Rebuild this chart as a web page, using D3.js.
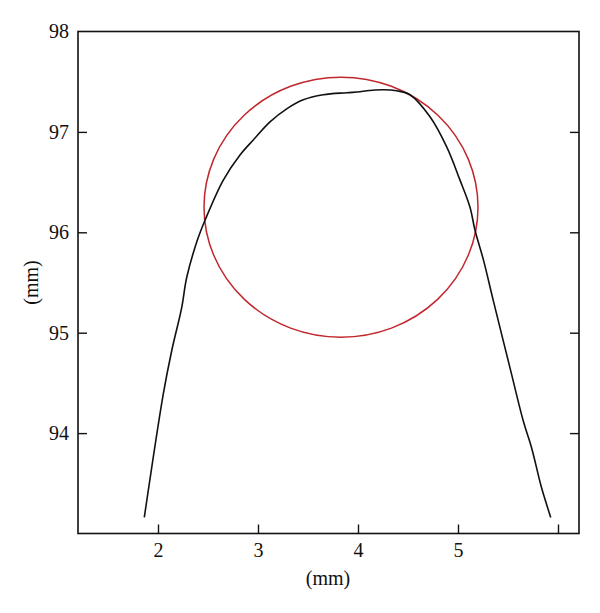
<!DOCTYPE html>
<html>
<head>
<meta charset="utf-8">
<script src="https://cdn.jsdelivr.net/npm/d3@7"></script>
<style>
  body { margin: 0; background: #fff; }
  svg { display: block; }
  text { font-family: "Liberation Serif", "DejaVu Serif", serif; fill: #111; }
</style>
</head>
<body>
<svg id="chart" width="600" height="613"></svg>
<script>
// Profile curve (mm)
const profileX = [1.863, 2.053, 2.137, 2.237, 2.287, 2.393, 2.47, 2.653, 2.82, 2.953, 3.12, 3.287, 3.453, 3.653, 3.887, 4.02, 4.087, 4.253, 4.387, 4.52, 4.72, 4.887, 5.02, 5.12, 5.17, 5.253, 5.353, 5.52, 5.653, 5.737, 5.837, 5.927];
const profileY = [93.16, 94.39, 94.82, 95.25, 95.55, 95.92, 96.12, 96.52, 96.77, 96.92, 97.10, 97.23, 97.32, 97.37, 97.39, 97.40, 97.41, 97.42, 97.41, 97.37, 97.15, 96.85, 96.52, 96.25, 96.02, 95.73, 95.32, 94.65, 94.12, 93.85, 93.45, 93.16];
// Fitted circle: centre and radii (mm)
const circleCenter = [3.83, 96.25];
const circleRadii = [1.37, 1.295];
// Axes
const xDomain = [1.2, 6.21];
const yDomain = [93, 98];
const xTickValues = [2, 3, 4, 5, 6];
const xTickLabels = ["2", "3", "4", "5", ""];
const yTickValues = [94, 95, 96, 97, 98];
const yTickLabels = ["94", "95", "96", "97", "98"];
const xTitle = "(mm)";
const yTitle = "(mm)";

const svg = d3.select("#chart");
const m = { left: 78, right: 21, top: 31.5, bottom: 79.5 };
const W = 600, H = 613;
const x = d3.scaleLinear().domain(xDomain).range([m.left, W - m.right]);
const y = d3.scaleLinear().domain(yDomain).range([H - m.bottom, m.top]);

const tickLen = 9;
const fontSize = 20;
const fontFam = '"Liberation Serif", "DejaVu Serif", serif';

// bottom axis: inward ticks
const xAxis = d3.axisBottom(x).tickValues(xTickValues)
  .tickFormat((d, i) => xTickLabels[i]).tickSizeInner(-tickLen).tickSizeOuter(0).tickPadding(9);
const gx = svg.append("g").attr("transform", `translate(0,${y(yDomain[0])})`).call(xAxis);
gx.select(".domain").remove();
gx.selectAll("line").attr("stroke", "#111").attr("stroke-width", 1.4);
gx.selectAll("text").attr("font-size", fontSize).attr("fill", "#111").attr("font-family", fontFam);

// left axis
const yAxis = d3.axisLeft(y).tickValues(yTickValues)
  .tickFormat((d, i) => yTickLabels[i]).tickSizeInner(-tickLen).tickSizeOuter(0).tickPadding(9);
const gy = svg.append("g").attr("transform", `translate(${x(xDomain[0])},0)`).call(yAxis);
gy.select(".domain").remove();
gy.selectAll("line").attr("stroke", "#111").attr("stroke-width", 1.4)
  .attr("opacity", d => d === yDomain[1] ? 0 : 1);
gy.selectAll("text").attr("font-size", fontSize).attr("fill", "#111").attr("font-family", fontFam);

// right axis (ticks only)
const yAxisR = d3.axisRight(y).tickValues(yTickValues.filter(v => v !== yDomain[1]))
  .tickFormat("").tickSizeInner(-tickLen).tickSizeOuter(0);
const gyr = svg.append("g").attr("transform", `translate(${x(xDomain[1])},0)`).call(yAxisR);
gyr.select(".domain").remove();
gyr.selectAll("line").attr("stroke", "#111").attr("stroke-width", 1.4);

// frame
svg.append("rect")
  .attr("x", x(xDomain[0])).attr("y", y(yDomain[1]))
  .attr("width", x(xDomain[1]) - x(xDomain[0]))
  .attr("height", y(yDomain[0]) - y(yDomain[1]))
  .attr("fill", "none").attr("stroke", "#111").attr("stroke-width", 1.6);

// fitted circle
svg.append("ellipse")
  .attr("cx", x(circleCenter[0])).attr("cy", y(circleCenter[1]))
  .attr("rx", x(circleCenter[0] + circleRadii[0]) - x(circleCenter[0]))
  .attr("ry", y(circleCenter[1]) - y(circleCenter[1] + circleRadii[1]))
  .attr("fill", "none").attr("stroke", "#c1272d").attr("stroke-width", 1.5);

// profile line
const pts = profileX.map((v, i) => [v, profileY[i]]);
svg.append("path").datum(pts)
  .attr("d", d3.line().x(d => x(d[0])).y(d => y(d[1])).curve(d3.curveCatmullRom.alpha(0.5)))
  .attr("fill", "none").attr("stroke", "#111").attr("stroke-width", 1.6);

// titles
svg.append("text").attr("x", (x(xDomain[0]) + x(xDomain[1])) / 2 - 0.5).attr("y", 585)
  .attr("text-anchor", "middle").attr("font-size", fontSize).text(xTitle);
svg.append("text").attr("transform", `translate(38,${(y(yDomain[0]) + y(yDomain[1])) / 2}) rotate(-90)`)
  .attr("text-anchor", "middle").attr("font-size", fontSize).text(yTitle);
</script>
</body>
</html>
